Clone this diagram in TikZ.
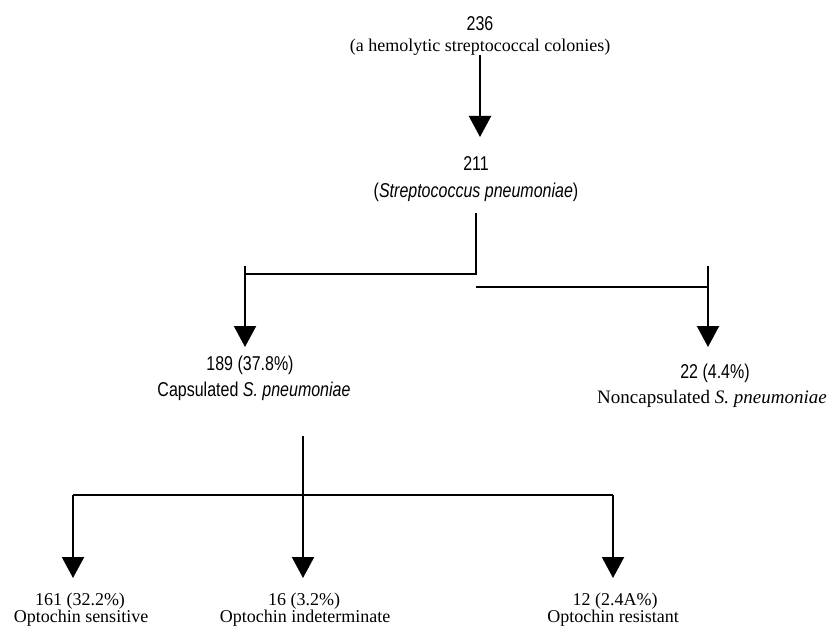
\documentclass[tikz,border=0pt]{standalone}
\usepackage{fontspec}
\setmainfont{Liberation Serif}
\newfontfamily\cond[FakeStretch=0.8]{Liberation Sans}
\usetikzlibrary{arrows.meta}
\begin{document}
\begin{tikzpicture}[x=1pt,y=-1pt,
  serif/.style={anchor=base, inner sep=0pt, font=\fontsize{18}{20}\selectfont},
  sans/.style={anchor=base, inner sep=0pt, font=\cond\fontsize{20}{22}\selectfont},
  ln/.style={line width=2.2pt},
  arr/.style={line width=2.2pt, -{Triangle[width=22pt,length=21pt]}}]
\useasboundingbox (0,0) rectangle (832,628);
% texts
\node[sans]  (t236)  at (480,31)  {236};
\node[serif] (t236b) at (480,52)  {(a hemolytic streptococcal colonies)};
\node[sans]  (t211)  at (476,171) {211};
\node[sans]  (t211b) at (476,198) {(\textit{Streptococcus pneumoniae})};
\node[sans]  (t189)  at (250,370) {189 (37.8\%)};
\node[sans]  (t189b) at (254,396) {Capsulated \textit{S. pneumoniae}};
\node[sans]  (t22)   at (715,378) {22 (4.4\%)};
\node[serif, font=\fontsize{19}{21}\selectfont] (t22b) at (712,403) {Noncapsulated \textit{S. pneumoniae}};
\node[serif] (t161)  at (80,605)  {161 (32.2\%)};
\node[serif] (t161b) at (81,622)  {Optochin sensitive};
\node[serif] (t16)   at (304,605) {16 (3.2\%)};
\node[serif] (t16b)  at (305,622) {Optochin indeterminate};
\node[serif] (t12)   at (615,605) {12 (2.4A\%)};
\node[serif] (t12b)  at (613,622) {Optochin resistant};
% connector points
\coordinate (a0) at (480,55);
\coordinate (a1) at (480,137);
\coordinate (b0) at (476,213);
\coordinate (b1) at (476,274);
\coordinate (bl) at (245,274);
\coordinate (bl0) at (245,266);
\coordinate (bl1) at (245,347);
\coordinate (br) at (476,287);
\coordinate (brr) at (708,287);
\coordinate (br0) at (708,266);
\coordinate (br1) at (708,347);
\coordinate (c0) at (303,436);
\coordinate (c1) at (303,578);
\coordinate (cl) at (73,495);
\coordinate (cl1) at (73,578);
\coordinate (cr) at (613,495);
\coordinate (cr1) at (613,578);
% connectors
\draw[arr] (a0) -- (a1);
\draw[ln] (b0) -- (b1) -- (bl);
\draw[arr] (bl0) -- (bl1);
\draw[ln] (br) -- (brr);
\draw[arr] (br0) -- (br1);
\draw[arr] (c0) -- (c1);
\draw[ln] (cl) -- (cr);
\draw[arr] (cl) -- (cl1);
\draw[arr] (cr) -- (cr1);
\end{tikzpicture}
\end{document}
